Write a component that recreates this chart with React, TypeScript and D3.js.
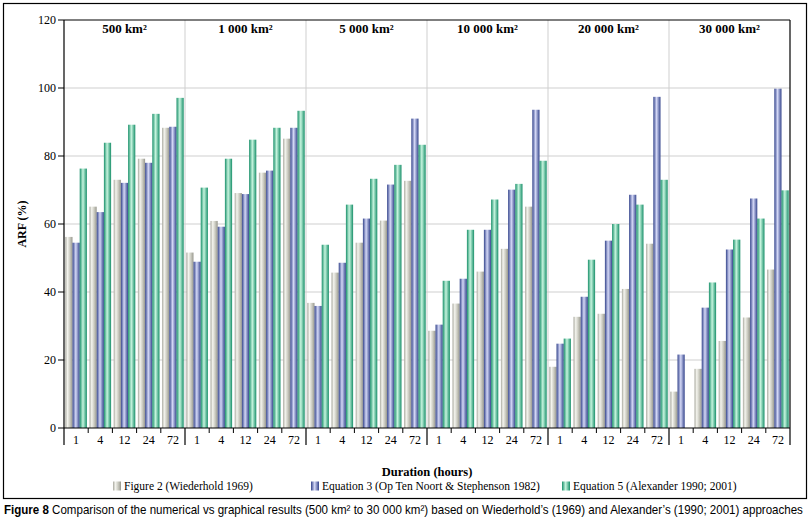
import React, { useLayoutEffect, useRef, useState } from 'react';
import * as d3 from 'd3';

const areas = ['500 km²', '1 000 km²', '5 000 km²', '10 000 km²', '20 000 km²', '30 000 km²'];
const durations = ['1', '4', '12', '24', '72'];
const seriesNames = [
  'Figure 2 (Wiederhold 1969)',
  'Equation 3 (Op Ten Noort & Stephenson 1982)',
  'Equation 5 (Alexander 1990; 2001)',
];

// ARF (%) per area, one value per duration (1, 4, 12, 24, 72 h)
const wiederhold = [
  [56.2, 65.1, 73.0, 79.2, 88.3],
  [51.6, 60.9, 69.1, 75.1, 85.1],
  [36.8, 45.7, 54.5, 61.0, 72.7],
  [28.6, 36.6, 46.0, 52.7, 65.1],
  [18.0, 32.7, 33.6, 40.9, 54.2],
  [10.7, 17.4, 25.6, 32.5, 46.6],
];
const equation3 = [
  [54.5, 63.5, 72.1, 78.0, 88.6],
  [48.9, 59.2, 68.8, 75.7, 88.3],
  [35.9, 48.6, 61.6, 71.6, 91.0],
  [30.4, 43.9, 58.3, 70.1, 93.6],
  [24.8, 38.6, 55.1, 68.6, 97.4],
  [21.6, 35.4, 52.5, 67.5, 99.8],
];
const equation5 = [
  [76.3, 83.9, 89.2, 92.4, 97.1],
  [70.7, 79.2, 84.8, 88.3, 93.3],
  [53.9, 65.7, 73.3, 77.4, 83.3],
  [43.3, 58.3, 67.2, 71.8, 78.6],
  [26.3, 49.5, 60.0, 65.7, 73.0],
  [0, 42.8, 55.4, 61.6, 69.9],
];
const yTicks = [0, 20, 40, 60, 80, 100, 120];

const seriesData = [wiederhold, equation3, equation5];

// gradient stops giving the bars their cylinder look
const gradients = [
  [['0%', '#a8a89e'], ['30%', '#f4f4ee'], ['65%', '#cacac0'], ['100%', '#98988e']],
  [['0%', '#34448c'], ['45%', '#d4d8f6'], ['100%', '#34448c']],
  [['0%', '#19906a'], ['45%', '#c6f4de'], ['100%', '#19906a']],
];

const W = 810;
const H = 522;
const left = 64;
const right = 790;
const top = 20;
const bottom = 428;
const serif = '"Liberation Serif", "Times New Roman", serif';
const captionWidth = 800;

const App: React.FC = () => {
  const captionRef = useRef<SVGTextElement>(null);
  const [captionScale, setCaptionScale] = useState(1);

  useLayoutEffect(() => {
    if (!captionRef.current) return;
    const w = captionRef.current.getComputedTextLength();
    if (w > 0) setCaptionScale(Math.min(1, captionWidth / w));
  }, []);

  const x0 = d3.scaleBand<string>().domain(areas).range([left, right]);
  const x1 = d3.scaleBand<string>().domain(durations).range([0, x0.bandwidth()]);
  const x2 = d3.scaleBand<number>().domain([0, 1, 2]).range([0, x1.bandwidth()]).paddingOuter(0.18);
  const y = d3.scaleLinear().domain([0, 120]).range([bottom, top]);

  const legendX = [113, 311, 562];

  return (
    <svg width={W} height={H} style={{ position: 'absolute', left: 0, top: 0, background: '#fff' }}>
      <defs>
        {gradients.map((stops, i) => (
          <linearGradient key={i} id={`bar-${i}`} x1="0" x2="1" y1="0" y2="0">
            {stops.map(([o, c]) => <stop key={o} offset={o} stopColor={c} />)}
          </linearGradient>
        ))}
      </defs>

      {/* outer frame */}
      <rect x={3.5} y={3.5} width={803} height={495} fill="none" stroke="#000" strokeWidth={1.2} />

      {/* horizontal grid */}
      {yTicks.filter(t => t > 0 && t < 120).map(t => (
        <line key={t} x1={left} x2={right} y1={y(t)} y2={y(t)} stroke="#cfcfcf" />
      ))}
      {/* group separators */}
      {areas.slice(1).map(a => (
        <line key={a} x1={x0(a)!} x2={x0(a)!} y1={top} y2={bottom} stroke="#cfcfcf" />
      ))}

      {/* bars */}
      {areas.map((a, gi) =>
        durations.map((d, di) =>
          seriesData.map((s, si) => {
            const v = s[gi][di];
            if (!v) return null;
            return (
              <rect
                key={`${gi}-${di}-${si}`}
                x={x0(a)! + x1(d)! + x2(si)!}
                y={y(v)}
                width={x2.bandwidth()}
                height={y(0) - y(v)}
                fill={`url(#bar-${si})`}
              />
            );
          })
        )
      )}

      {/* plot border */}
      <line x1={left} x2={right} y1={top} y2={top} stroke="#000" strokeWidth={1.2} />
      <line x1={right} x2={right} y1={top} y2={bottom} stroke="#000" strokeWidth={1.2} />
      <line x1={left} x2={left} y1={top} y2={bottom} stroke="#000" strokeWidth={1.2} />
      <line x1={left} x2={right} y1={bottom} y2={bottom} stroke="#000" strokeWidth={1.2} />

      {/* y axis */}
      {yTicks.map(t => (
        <g key={t}>
          <line x1={left - 6} x2={left} y1={y(t)} y2={y(t)} stroke="#000" />
          <text x={left - 8} y={y(t)} dy="0.35em" textAnchor="end" fontFamily={serif} fontSize={12}>{t}</text>
        </g>
      ))}
      <text
        transform={`translate(22,${(top + bottom) / 2}) rotate(-90)`}
        textAnchor="middle"
        dy="0.35em"
        fontFamily={serif}
        fontSize={12}
        fontWeight="bold"
      >ARF (%)</text>

      {/* x axis: duration ticks and group dividers */}
      {areas.map(a => (
        <g key={a}>
          <line x1={x0(a)!} x2={x0(a)!} y1={bottom} y2={445} stroke="#000" strokeWidth={1.2} />
          {durations.slice(1).map(d => (
            <line key={d} x1={x0(a)! + x1(d)!} x2={x0(a)! + x1(d)!} y1={bottom} y2={bottom + 5} stroke="#000" />
          ))}
          {durations.map(d => (
            <text
              key={d}
              x={x0(a)! + x1(d)! + x1.bandwidth() / 2}
              y={444}
              textAnchor="middle"
              fontFamily={serif}
              fontSize={12}
            >{d}</text>
          ))}
          <text
            x={x0(a)! + x0.bandwidth() / 2}
            y={33}
            textAnchor="middle"
            fontFamily={serif}
            fontSize={13}
            fontWeight="bold"
          >{a}</text>
        </g>
      ))}
      <line x1={right} x2={right} y1={bottom} y2={445} stroke="#000" strokeWidth={1.2} />

      <text x={(left + right) / 2} y={476} textAnchor="middle" fontFamily={serif} fontSize={12.5} fontWeight="bold">
        Duration (hours)
      </text>

      {/* legend */}
      {seriesNames.map((n, i) => (
        <g key={n}>
          <rect x={legendX[i]} y={481.5} width={8} height={9} fill={`url(#bar-${i})`} />
          <text x={legendX[i] + 11} y={486} dy="0.35em" fontFamily={serif} fontSize={11.5}>{n}</text>
        </g>
      ))}

      {/* caption, squeezed horizontally to the frame width */}
      <g transform={`translate(4,514) scale(${captionScale},1)`}>
        <text
          ref={captionRef}
          x={0}
          y={0}
          fontFamily='"Liberation Sans Narrow", "Liberation Sans", Arial, sans-serif'
          fontSize={12}
        >
          <tspan fontWeight="bold">Figure 8</tspan>
          <tspan> Comparison of the numerical vs graphical results (500 km² to 30 000 km²) based on Wiederhold’s (1969) and Alexander’s (1990; 2001) approaches</tspan>
        </text>
      </g>
    </svg>
  );
};

export default App;
